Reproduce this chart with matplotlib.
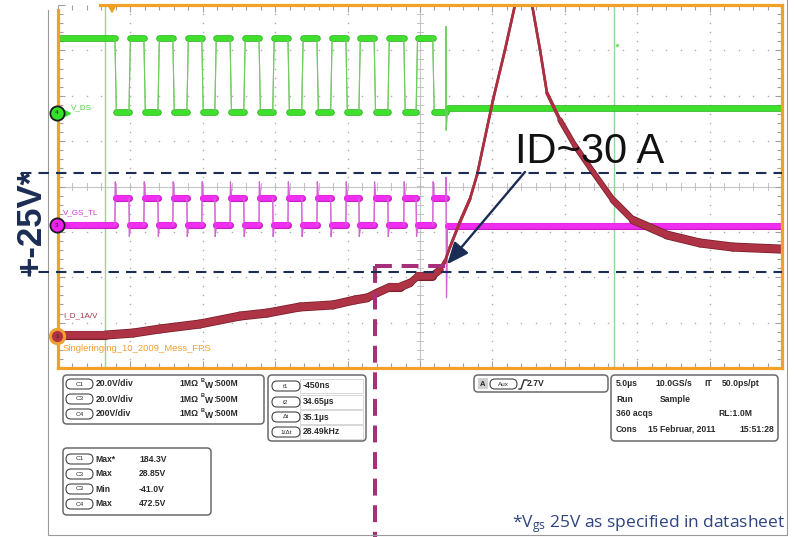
import numpy as np
import matplotlib
matplotlib.use("Agg")
import matplotlib.pyplot as plt
from matplotlib.collections import LineCollection
from matplotlib.patches import FancyBboxPatch, Rectangle, Polygon
from matplotlib.ticker import FixedLocator

plt.rcParams["mathtext.fontset"] = "custom"
plt.rcParams["mathtext.rm"] = "Open Sans"
plt.rcParams["mathtext.it"] = "Open Sans"

# ---------------- acquisition settings ----------------
time_per_div_us = 5.0
n_div_x, n_div_y = 10, 8
t_start_us = -3.73            # left screen edge relative to trigger

ch1_scale_a = 20.0            # I_D via 1 A/V probe, 20 V/div
ch3_scale_v = 20.0            # V_GS
ch4_scale_v = 200.0           # V_DS
ch1_ground_div = -3.295
ch3_ground_div = -0.85
ch4_ground_div = 1.62

# ---------------- gate pulse train (us) ----------------
gate_on_us = [0.2, 2.2, 4.2, 6.2, 8.15, 10.15, 12.15, 14.15, 16.15, 18.1, 20.15, 22.15]
gate_off_us = [1.17, 3.17, 5.17, 7.1, 9.1, 11.1, 13.1, 15.1, 17.05, 19.05, 21.0, 23.05]

# V_DS levels (V)
vds_off_v = 330.0
vds_on_v = 5.0
vds_after_v = 24.0
vds_spike_v = [380.0, -75.0]

# V_GS levels (V)
vgs_on_v = 12.0
vgs_off_v = 0.0
vgs_rise_peak_v = 19.0
vgs_fall_dip_v = -5.0
vgs_last_peak_v = 21.0
vgs_last_dip_v = -32.0
vgs_tail_v = -0.4

# I_D waveform (us, A)
id_time_us = [-3.73, -0.48, 1.45, 3.31, 6.08, 8.84, 10.70, 12.98, 15.26, 16.78, 17.61,
              18.30, 19.20, 19.89, 20.58, 21.13, 22.10, 22.65, 23.00, 23.34, 24.03,
              24.72, 25.21, 26.31, 27.14, 27.83, 28.38, 29.01, 29.56, 30.04, 30.94,
              31.98, 33.22, 34.60, 35.98, 38.33, 40.61, 42.89, 46.27]
id_amp = [0.4, 0.4, 1.3, 3.1, 5.3, 8.8, 10.1, 12.8, 13.7, 15.9, 16.8,
          19.0, 21.6, 21.6, 23.4, 26.4, 26.4, 29.1, 33.1, 39.2, 50.3,
          60.4, 71.0, 104.0, 126.1, 145.9, 162.0, 145.9, 126.1, 107.1, 95.2,
          83.8, 72.3, 59.9, 51.1, 44.5, 41.0, 39.2, 38.3]

# cursors and annotation
cursor_t1_us = -0.45
cursor_t2_us = 34.65
marked_current_a = 31.0
marked_window_us = [18.16, 23.0]

# readout panels
vert_ch = ["C1", "C3", "C4"]
vert_scale = ["20.0V/div", "20.0V/div", "200V/div"]
cursor_names = ["t1", "t2", "\u0394t", "1/\u0394t"]
cursor_vals = ["-450ns", "34.65\u00b5s", "35.1\u00b5s", "28.49kHz"]
meas_ch = ["C1", "C3", "C3", "C4"]
meas_kind = ["Max*", "Max", "Min", "Max"]
meas_vals = ["184.3V", "28.85V", "-41.0V", "472.5V"]

# ---------------- figure ----------------
W, H = 794, 537
fig = plt.figure(figsize=(W / 100, H / 100), dpi=100)
fig.patch.set_facecolor("white")
ax = fig.add_axes([58 / W, 1 - 368 / H, 724 / W, 363 / H])
t_end_us = t_start_us + n_div_x * time_per_div_us
ax.set_xlim(t_start_us, t_end_us)
ax.set_ylim(-n_div_y / 2, n_div_y / 2)
for s in ax.spines.values():
    s.set_visible(False)

xmaj = t_start_us + time_per_div_us * np.arange(n_div_x + 1)
xmin = t_start_us + np.arange(0, n_div_x * 5 + 1) * time_per_div_us / 5
ymaj = np.arange(-n_div_y / 2, n_div_y / 2 + 1)
ymin = np.arange(-n_div_y / 2, n_div_y / 2 + 0.01, 0.2)
ax.xaxis.set_major_locator(FixedLocator(xmaj))
ax.xaxis.set_minor_locator(FixedLocator(xmin))
ax.yaxis.set_major_locator(FixedLocator(ymaj))
ax.yaxis.set_minor_locator(FixedLocator(ymin))
ax.tick_params(which="both", direction="in", top=True, right=True, bottom=True, left=True,
               labelbottom=False, labelleft=False, color="#a0a0a0", width=0.8)
ax.tick_params(which="major", length=5)
ax.tick_params(which="minor", length=3.5)

# dotted graticule
grid_c = "#b0b0b0"
xc = xmaj[5]
for k, xg in enumerate(xmaj[1:-1], start=1):
    if k == 5:
        continue
    yy = ymin[1:-1]
    ax.scatter(np.full_like(yy, xg), yy, s=1.3, color=grid_c, lw=0, zorder=1)
for yg in ymaj[1:-1]:
    if yg == 0:
        continue
    xx = xmin[1:-1]
    ax.scatter(xx, np.full_like(xx, yg), s=1.3, color=grid_c, lw=0, zorder=1)
# centre cross with ticks
ax.axvline(xc, color="#c6c6c6", lw=0.8, zorder=1)
ax.axhline(0, color="#c6c6c6", lw=0.8, zorder=1)
for yy in ymin:
    ax.plot([xc - 0.22, xc + 0.22], [yy, yy], color="#b8b8b8", lw=0.6, zorder=1)
for xx in xmin:
    ax.plot([xx, xx], [-0.07, 0.07], color="#b8b8b8", lw=0.6, zorder=1)

# cursors
for tc in (cursor_t1_us, cursor_t2_us):
    ax.axvline(tc, color="#98d498", lw=1.0, zorder=2)
ax.scatter([cursor_t2_us + 0.2], [ch4_ground_div + 1.5], s=4, color="#55dd44", lw=0, zorder=2)


def band_trace(t, ydiv, band_px, min_px, col, edge_col, thin_col, z):
    pts = ax.transData.transform(np.column_stack([t, ydiv]))
    d = np.diff(pts, axis=0)
    ln = np.hypot(d[:, 0], d[:, 1])
    cosv = np.abs(d[:, 0]) / np.maximum(ln, 1e-9)
    w = np.maximum(min_px, band_px * cosv)
    segs = np.stack([np.column_stack([t[:-1], ydiv[:-1]]),
                     np.column_stack([t[1:], ydiv[1:]])], axis=1)
    thick = w > 0.5 * band_px
    ow = np.where(thick, w + 1.6, w)
    cols_o = [edge_col if th else thin_col for th in thick]
    cols_i = [col if th else thin_col for th in thick]
    lc_o = LineCollection(segs, linewidths=ow * 0.72, colors=cols_o, capstyle="round",
                          joinstyle="round", zorder=z)
    lc_i = LineCollection(segs, linewidths=w * 0.72, colors=cols_i, capstyle="round",
                          joinstyle="round", zorder=z + 0.1)
    ax.add_collection(lc_o)
    ax.add_collection(lc_i)


# V_DS trace
edge = 0.1
tv, vv = [t_start_us], [vds_off_v]
last = len(gate_on_us) - 1
for i, (on, off) in enumerate(zip(gate_on_us, gate_off_us)):
    tv += [on, on + edge]
    vv += [vds_off_v, vds_on_v]
    if i < last:
        tv += [off, off + edge]
        vv += [vds_on_v, vds_off_v]
    else:
        tv += [off, off + 0.01, off + 0.03, off + 0.12]
        vv += [vds_on_v, vds_spike_v[0], vds_spike_v[1], vds_after_v]
tv.append(t_end_us)
vv.append(vds_after_v)
tv = np.array(tv)
vds_div = ch4_ground_div + np.array(vv) / ch4_scale_v
band_trace(tv, vds_div, 5.0, 1.1, "#3fe02c", "#25b51a", "#72cc62", 3)

# V_GS trace
tg, vg = [t_start_us], [vgs_off_v]
for i, (on, off) in enumerate(zip(gate_on_us, gate_off_us)):
    tg += [on, on + 0.03, on + 0.1]
    vg += [vgs_off_v, vgs_rise_peak_v, vgs_on_v]
    if i < last:
        tg += [off, off + 0.03, off + 0.1]
        vg += [vgs_on_v, vgs_fall_dip_v, vgs_off_v]
    else:
        tg += [off, off + 0.02, off + 0.05, off + 0.12]
        vg += [vgs_on_v, vgs_last_peak_v, vgs_last_dip_v, vgs_tail_v]
tg.append(t_end_us)
vg.append(vgs_tail_v)
tg = np.array(tg)
vgs_div = ch3_ground_div + np.array(vg) / ch3_scale_v
band_trace(tg, vgs_div, 5.5, 1.1, "#f02ef0", "#c81ec8", "#d466d4", 4)

# I_D trace
ti = np.array(id_time_us)
id_div = ch1_ground_div + np.array(id_amp) / ch1_scale_a
band_trace(ti, id_div, 7.5, 2.6, "#ae3445", "#7a1d2b", "#a83040", 5)

# channel ground markers and labels
px_us = 724 / (n_div_x * time_per_div_us)
markers = [
    (ch4_ground_div, "4", "#34e02c", "#1a1a1a", "V_DS", "#44cc3a", (13, 5)),
    (ch3_ground_div, "3", "#f020f0", "#1a1a1a", "V_GS_TL", "#c83ac8", (5, 12)),
    (ch1_ground_div, "1", "#b23244", "#f0a030", "I_D_1A/V", "#a8344a", (5, 20)),
]
for gdiv, num, fc, ec, lab, lc, off in markers:
    ax.plot([t_start_us + 9 / px_us], [gdiv], marker=">", ms=5, color=fc, mec=fc,
            clip_on=False, zorder=8)
    ax.scatter([t_start_us - 1 / px_us], [gdiv], s=105, color=fc, edgecolor=ec,
               linewidth=1.3 if ec != "#f0a030" else 2.2, clip_on=False, zorder=9)
    ax.text(t_start_us - 1 / px_us, gdiv, num, fontsize=4.5, color="#202020",
            ha="center", va="center", zorder=10, clip_on=False, family="Liberation Sans")
    ax.annotate(lab, xy=(t_start_us, gdiv), xytext=off, textcoords="offset pixels",
                fontsize=5.8, color=lc, family="Liberation Sans", va="center", zorder=10)
ax.annotate("Singleringing_10_2009_Mess_FPS", xy=(t_start_us, ch1_ground_div), xytext=(5, -12),
            textcoords="offset pixels", fontsize=6.8, color="#f0a030",
            family="Liberation Sans", va="center", zorder=10)

# trigger position marker
ax.add_patch(Polygon([[-0.26, 3.99], [0.26, 3.99], [0, 3.84]], closed=True,
                     color="#f0a020", clip_on=False, zorder=10))

# orange screen frame
oc = "#f2a027"
ax.plot([0, 0], [0, 0.986], transform=ax.transAxes, color=oc, lw=2.3, clip_on=False, zorder=7)
ax.plot([0, 1], [0, 0], transform=ax.transAxes, color=oc, lw=2.3, clip_on=False, zorder=7)
ax.plot([1, 1], [0, 1], transform=ax.transAxes, color=oc, lw=2.3, clip_on=False, zorder=7)
ax.plot([0.058, 1], [1, 1], transform=ax.transAxes, color=oc, lw=2.3, clip_on=False, zorder=7)

# marked current window
mk_div = ch1_ground_div + marked_current_a / ch1_scale_a
mag = "#a8307a"
ax.plot([marked_window_us[0], marked_window_us[0]], [mk_div, -9], color=mag, lw=2.9,
        dashes=(4.2, 2.4), clip_on=False, zorder=11)
ax.plot([marked_window_us[0], marked_window_us[1]], [mk_div, mk_div], color=mag, lw=2.9,
        dashes=(4.2, 2.4), clip_on=False, zorder=11)

# arrow and current label
navy = "#1b2d55"
ax.annotate("", xy=(marked_window_us[1] + 0.14, mk_div + 0.03), xytext=(28.52, 0.32),
            arrowprops=dict(arrowstyle="-|>,head_length=0.95,head_width=0.4", color=navy,
                            lw=1.7, mutation_scale=14, shrinkA=0, shrinkB=0), zorder=12)
ax.text(27.85, 0.52, "ID~30 A", fontsize=30, family="Liberation Sans", color="#111111",
        ha="left", va="baseline", zorder=12)

# ---------------- overlay in pixel coordinates ----------------
ov = fig.add_axes([0, 0, 1, 1], zorder=5)
ov.set_xlim(0, W)
ov.set_ylim(H, 0)
ov.axis("off")
ov.patch.set_alpha(0)

# slide frame
ov.plot([48, 48, 787, 787], [10, 535, 535, 0], color="#9a9a9a", lw=0.8)

# +-25V band
for yl in (173, 272):
    ov.plot([21, 782], [yl, yl], color=navy, lw=1.5, dashes=(5, 3.4))
ov.text(31, 222, "+-25V*", rotation=90, fontsize=25, fontweight="bold", color=navy,
        family="Liberation Sans", ha="center", va="center")

# readout panels
tc = "#2a2a2a"
bf = dict(fontsize=6.2, fontweight="bold", color=tc, family="Liberation Sans", va="center")


def panel(x0, y0, x1, y1):
    ov.add_patch(FancyBboxPatch((x0, y0), x1 - x0, y1 - y0,
                                boxstyle="round,pad=0,rounding_size=4",
                                fc="white", ec="#6a6a6a", lw=1.1))


def pill(x0, x1, yc, txt):
    ov.add_patch(FancyBboxPatch((x0, yc - 5), x1 - x0, 10,
                                boxstyle="round,pad=0,rounding_size=5",
                                fc="white", ec="#444444", lw=0.8))
    ov.text((x0 + x1) / 2, yc, txt, fontsize=4.6, color=tc, ha="center", va="center",
            family="Liberation Sans")


panel(63, 375, 264, 424)
for yc, ch, sc in zip([384, 399, 414], vert_ch, vert_scale):
    pill(66, 93, yc, ch)
    ov.text(96, yc, sc, **bf)
    ov.text(179, yc, "1M\u03a9", **bf)
    ov.text(200.5, yc - 3.5, "B", fontsize=4.0, fontweight="bold", color=tc,
            family="Liberation Sans", va="center")
    ov.text(205, yc + 1.5, "W", **bf)
    ov.text(213, yc, ":500M", **bf)

panel(268, 375, 366, 441)
for yc, nm, vl in zip([386, 402, 417, 432], cursor_names, cursor_vals):
    ov.add_patch(Rectangle((300, yc - 7), 63, 14, fc="none", ec="#d8d8d8", lw=0.7))
    pill(272, 300, yc, nm)
    ov.text(303, yc, vl, **bf)

panel(63, 448, 211, 515)
for yc, ch, kd, vl in zip([459, 474, 489, 504], meas_ch, meas_kind, meas_vals):
    pill(66, 93, yc, ch)
    ov.text(95, yc, kd, **bf)
    ov.text(139, yc, vl, **bf)

panel(474, 375, 608, 392)
ov.add_patch(Rectangle((478, 378), 10, 11, fc="#d0d0d0", ec="none"))
ov.text(483, 384, "A", fontsize=5.5, fontweight="bold", color=tc, ha="center", va="center",
        family="Liberation Sans")
pill(490, 517, 384, "Aux")
ov.plot([519, 521, 524, 527], [389, 389, 380, 380], color=tc, lw=1.0)
ov.text(527, 384, "2.7V", **bf)

panel(611, 375, 778, 441)
ov.text(616, 384, "5.0\u00b5s", **bf)
ov.text(655, 384, "10.0GS/s", **bf)
ov.text(704, 384, "IT", **bf)
ov.text(722, 384, "50.0ps/pt", **bf)
ov.text(616, 399, "Run", **bf)
ov.text(660, 399, "Sample", **bf)
ov.text(616, 414, "360 acqs", **bf)
ov.text(718, 414, "RL:1.0M", **bf)
ov.text(616, 429, "Cons", **bf)
ov.text(648, 429, "15 Februar, 2011", **bf)
ov.text(739, 429, "15:51:28", **bf)

# footnote
ov.text(785, 527, "*V$_{\\mathrm{gs}}$ 25V as specified in datasheet", fontsize=12.5,
        color="#2e4480", family="Open Sans", ha="right", va="baseline")

fig.savefig("out.png", dpi=100, facecolor="white")
